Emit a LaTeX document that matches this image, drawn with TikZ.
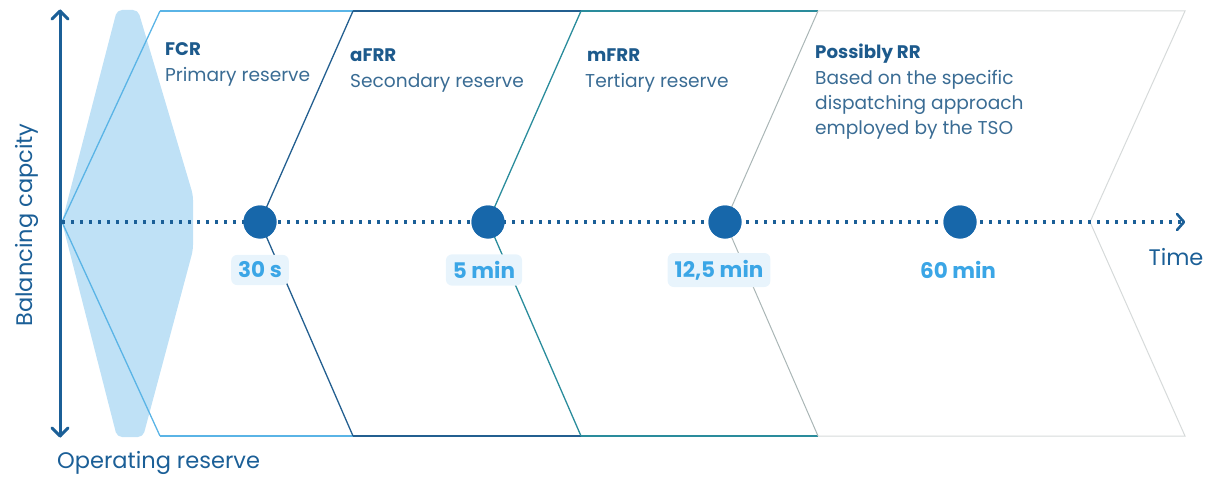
\documentclass[tikz,border=0pt]{standalone}
\usepackage{fontspec}
\setmainfont{Poppins}
\usetikzlibrary{arrows.meta}
\definecolor{axisc}{HTML}{1B5F97}
\definecolor{fillc}{HTML}{BFE1F6}
\definecolor{fcrc}{HTML}{5AB4E6}
\definecolor{afrrc}{HTML}{235F90}
\definecolor{mfrrc}{HTML}{2A8C9C}
\definecolor{rrc}{HTML}{AAB6B6}
\definecolor{endc}{HTML}{D6DADA}
\definecolor{dotc}{HTML}{1767AA}
\definecolor{ttlc}{HTML}{1D5A8C}
\definecolor{dscc}{HTML}{3A6C94}
\definecolor{lbltxt}{HTML}{3BA6E6}
\definecolor{lblbg}{HTML}{E8F4FC}
\begin{document}
\begin{tikzpicture}[x=1pt,y=-1pt,
  ttl/.style={anchor=base west,inner sep=0pt,font=\fontsize{18.2}{25}\selectfont\bfseries,text=ttlc},
  dsc/.style={anchor=base west,inner sep=0pt,font=\fontsize{18.6}{25}\selectfont,text=dscc},
  axlbl/.style={inner sep=0pt,font=\fontsize{22.5}{26}\selectfont,text=axisc},
  tdot/.style={circle,fill=dotc,minimum size=33pt,inner sep=0pt},
  tlbl/.style={rounded corners=6pt,fill=lblbg,text=lbltxt,font=\fontsize{21.5}{26}\selectfont\bfseries,inner xsep=7pt,inner ysep=7pt},
  bline/.style={line width=1.3pt},
]
\useasboundingbox (0,0) rectangle (1206,476);
% light blue shape
\fill[fillc,rounded corners=5pt] (117,10) -- (138,10) -- (193,195) -- (193,250) -- (143,437) -- (117,437) -- (62,222) -- cycle;
% coordinates
\coordinate (ft) at (160,11); \coordinate (fm) at (62,222); \coordinate (fb) at (160,436);
\coordinate (at) at (353,11); \coordinate (ab) at (353,436);
\coordinate (mt) at (581,11); \coordinate (mb) at (581,436);
\coordinate (rt) at (818,11); \coordinate (rb) at (818,436);
\coordinate (et) at (1185,11); \coordinate (em) at (1090,222); \coordinate (eb) at (1185,436);
\coordinate (tend) at (1184,222);
% dots
\node[tdot] (d1) at (260,222) {};
\node[tdot] (d2) at (488,222) {};
\node[tdot] (d3) at (725,222) {};
\node[tdot] (d4) at (960,222) {};
% band borders
\draw[bline,fcrc] (ft) -- (fm) -- (fb);
\draw[bline,fcrc] (ft) -- (at);
\draw[bline,fcrc] (fb) -- (ab);
\draw[bline,afrrc] (at) -- (d1.center) -- (ab);
\draw[bline,afrrc] (at) -- (mt);
\draw[bline,afrrc] (ab) -- (mb);
\draw[bline,mfrrc] (mt) -- (d2.center) -- (mb);
\draw[bline,mfrrc] (mt) -- (rt);
\draw[bline,mfrrc] (mb) -- (rb);
\draw[bline,rrc,line width=1pt] (rt) -- (d3.center) -- (rb);
\draw[bline,endc,line width=1pt] (rt) -- (et) -- (em) -- (eb) -- (rb);
% time axis
\draw[axisc,line width=3.2pt,dash pattern=on 3.2pt off 5.8pt] (fm) -- (tend);
\draw[axisc,line width=2.6pt,line cap=round,line join=round] (1177,214) -- (1184,222) -- (1177,230);
% dots on top
\foreach \n in {d1,d2,d3,d4} \node[tdot] at (\n) {};
% vertical axis
\coordinate (vt) at (60,11); \coordinate (vb) at (60,436);
\draw[axisc,line width=3pt,line cap=round] (vt) -- (vb);
\draw[axisc,line width=3pt,line cap=round,line join=round] (52,19) -- (60,11) -- (68,19);
\draw[axisc,line width=3pt,line cap=round,line join=round] (52,428) -- (60,436) -- (68,428);
% time labels
\node[tlbl] (l1) at (260,270) {30 s};
\node[tlbl] (l2) at (484,270) {5 min};
\node[tlbl] (l3) at (719,270) {12,5 min};
\node[tlbl,fill=white] (l4) at (958,270) {60 min};
% texts
\node[ttl] (t1) at (165,56) {FCR};
\node[dsc] (s1) at (165,82) {Primary reserve};
\node[ttl] (t2) at (350,62) {aFRR};
\node[dsc] (s2) at (350,88) {Secondary reserve};
\node[ttl] (t3) at (587,62) {mFRR};
\node[dsc] (s3) at (585,88) {Tertiary reserve};
\node[ttl] (t4) at (815,59) {Possibly RR};
\node[dsc] (r1) at (815,85) {Based on the specific};
\node[dsc] (r2) at (815,110) {dispatching approach};
\node[dsc] (r3) at (815,135) {employed by the TSO};
\node[axlbl,rotate=90] (yl) at (27,225) {Balancing capcity};
\node[axlbl] (xl) at (1176,257) {Time};
\node[axlbl,anchor=base west] (ol) at (57,468) {Operating reserve};
\end{tikzpicture}
\end{document}
